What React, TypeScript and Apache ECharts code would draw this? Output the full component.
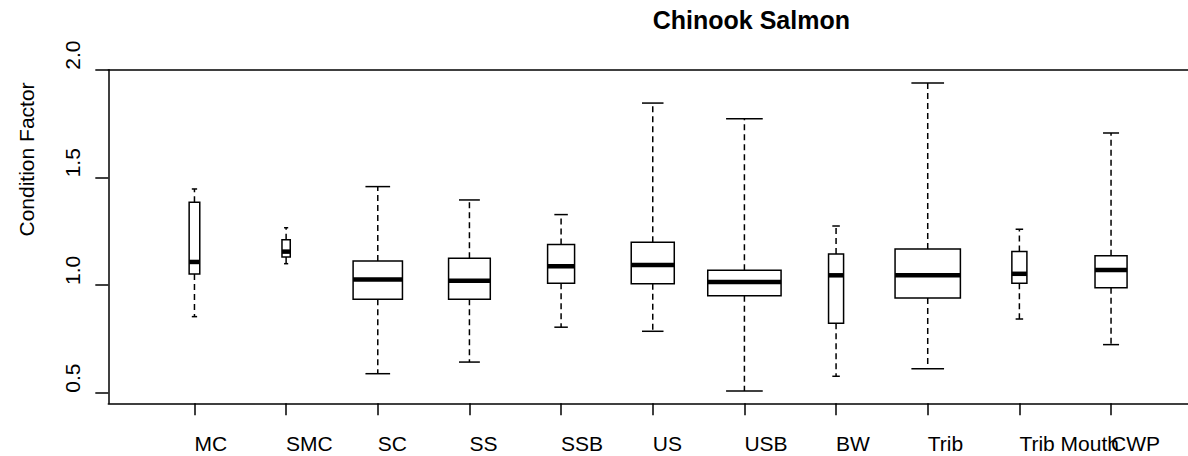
import React, { useEffect, useRef } from "react";
import * as echarts from "echarts";

// Site categories
const categories = ["MC", "SMC", "SC", "SS", "SSB", "US", "USB", "BW", "Trib", "Trib Mouth", "CWP"];
// Five-number summaries (lower whisker, Q1, median, Q3, upper whisker)
const lowerWhisker = [0.853, 1.099, 0.588, 0.642, 0.804, 0.785, 0.508, 0.576, 0.611, 0.842, 0.723];
const q1 = [1.051, 1.130, 0.934, 0.934, 1.008, 1.006, 0.950, 0.822, 0.940, 1.008, 0.987];
const median = [1.107, 1.155, 1.026, 1.020, 1.087, 1.093, 1.014, 1.045, 1.045, 1.052, 1.070];
const q3 = [1.384, 1.210, 1.111, 1.124, 1.188, 1.198, 1.068, 1.144, 1.167, 1.155, 1.136];
const upperWhisker = [1.446, 1.266, 1.457, 1.395, 1.327, 1.845, 1.772, 1.274, 1.938, 1.259, 1.706];
// Relative box widths (proportional to sqrt of sample size, varwidth)
const relWidth = [0.145, 0.113, 0.673, 0.569, 0.368, 0.587, 1.0, 0.205, 0.891, 0.205, 0.437];
// Tick values
const yTicks = [0.5, 1.0, 1.5, 2.0];
const xTicks = categories.map((_, i) => i + 1);

const FONT = "'Liberation Sans', Arial, sans-serif";
const X_MIN = 0.06;
const X_MAX = 11.94;
const Y_MIN = 0.4505;
const Y_MAX = 2.0;

export default function App() {
  const ref = useRef<HTMLDivElement>(null);
  useEffect(() => {
    if (!ref.current) return;
    const chart = echarts.init(ref.current, null, { renderer: "svg" });
    const data = categories.map((_, i) => [
      i + 1,
      lowerWhisker[i],
      q1[i],
      median[i],
      q3[i],
      upperWhisker[i],
      relWidth[i],
      i,
    ]);
    const lineStyle = { color: "#000", width: 1.5 };
    const option: any = {
      animation: false,
      backgroundColor: "#ffffff",
      title: {
        text: "Chinook Salmon",
        left: 652.7,
        top: 7,
        padding: 0,
        textStyle: { fontFamily: FONT, fontSize: 25, fontWeight: "bold", color: "#000" },
      },
      grid: {
        left: 108.3,
        top: 69.7,
        width: 1088.9,
        height: 333.6,
        show: false,
        containLabel: false,
        outerBoundsMode: "none",
      },
      xAxis: [
        {
          type: "value",
          position: "bottom",
          min: X_MIN,
          max: X_MAX,
          axisLine: { show: true, lineStyle },
          splitLine: { show: false },
          axisTick: { show: true, customValues: xTicks, length: 12, lineStyle },
          axisLabel: { show: false },
        },
        {
          type: "value",
          position: "top",
          min: X_MIN,
          max: X_MAX,
          axisLine: { show: true, lineStyle },
          splitLine: { show: false },
          axisTick: { show: false },
          axisLabel: { show: false },
        },
      ],
      yAxis: {
        type: "value",
        min: Y_MIN,
        max: Y_MAX,
        name: "Condition Factor",
        nameLocation: "middle",
        nameRotate: 90,
        nameGap: 71.8,
        nameTextStyle: {
          fontFamily: FONT,
          fontSize: 21,
          color: "#000",
          align: "left",
          verticalAlign: "bottom",
        },
        axisLine: { show: true, lineStyle },
        splitLine: { show: false },
        axisTick: { show: true, customValues: yTicks, length: 13, lineStyle },
        axisLabel: {
          customValues: yTicks,
          formatter: (v: number) => v.toFixed(1),
          rotate: 90,
          align: "left",
          verticalAlign: "bottom",
          margin: 25,
          color: "#000",
          fontFamily: FONT,
          fontSize: 21,
          showMinLabel: true,
          showMaxLabel: true,
        },
      },
      series: [
        {
          type: "custom",
          data,
          clip: false,
          xAxisIndex: 0,
          encode: { x: 0, y: [1, 2, 3, 4, 5] },
          renderItem: (params: any, api: any) => {
            const x = api.value(0);
            const lo = api.coord([x, api.value(1)]);
            const b1 = api.coord([x, api.value(2)]);
            const md = api.coord([x, api.value(3)]);
            const b3 = api.coord([x, api.value(4)]);
            const hi = api.coord([x, api.value(5)]);
            const base = api.coord([x, Y_MIN]);
            const unit = api.size([1, 0])[0];
            const bw = unit * 0.8 * api.value(6);
            const cw = bw * 0.5;
            const cx = lo[0];
            const label = categories[api.value(7)];
            const dash = { stroke: "#000", lineWidth: 1.5, lineDash: [6, 4], fill: null };
            const solid = { stroke: "#000", lineWidth: 1.5, fill: null };
            return {
              type: "group",
              children: [
                { type: "line", shape: { x1: cx, y1: b3[1], x2: cx, y2: hi[1] }, style: dash },
                { type: "line", shape: { x1: cx, y1: b1[1], x2: cx, y2: lo[1] }, style: dash },
                { type: "line", shape: { x1: cx - cw / 2, y1: hi[1], x2: cx + cw / 2, y2: hi[1] }, style: solid },
                { type: "line", shape: { x1: cx - cw / 2, y1: lo[1], x2: cx + cw / 2, y2: lo[1] }, style: solid },
                {
                  type: "rect",
                  shape: { x: cx - bw / 2, y: b3[1], width: bw, height: b1[1] - b3[1] },
                  style: { fill: "#fff", stroke: "#000", lineWidth: 1.5 },
                },
                {
                  type: "line",
                  shape: { x1: cx - bw / 2, y1: md[1], x2: cx + bw / 2, y2: md[1] },
                  style: { stroke: "#000", lineWidth: 4.5 },
                },
                {
                  type: "text",
                  x: cx,
                  y: base[1] + 30,
                  style: {
                    text: label,
                    fill: "#000",
                    fontFamily: FONT,
                    fontSize: 21,
                    align: "left",
                    verticalAlign: "top",
                  },
                },
              ],
            };
          },
        },
      ],
    };
    chart.setOption(option);
    return () => chart.dispose();
  }, []);
  return (
    <div
      style={{
        position: "fixed",
        left: 0,
        top: 0,
        width: 1188,
        height: 456,
        overflow: "hidden",
        background: "#fff",
      }}
    >
      <div ref={ref} style={{ width: 1188, height: 456 }} />
    </div>
  );
}
